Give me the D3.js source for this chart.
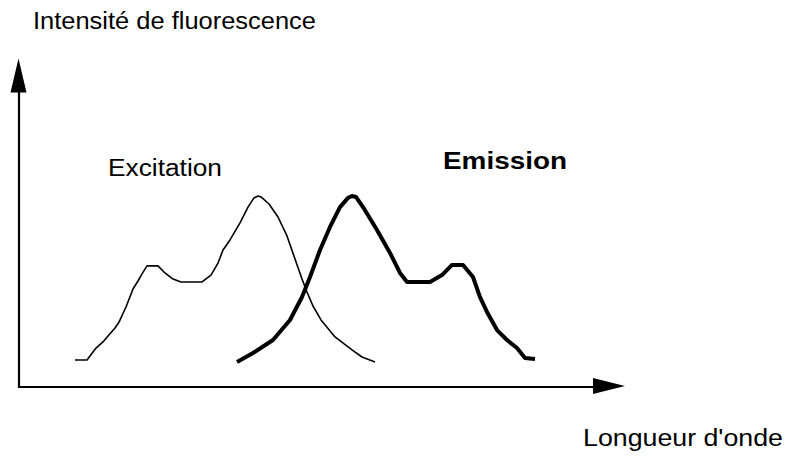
<!DOCTYPE html>
<html>
<head>
<meta charset="utf-8">
<script src="https://cdn.jsdelivr.net/npm/d3@7"></script>
<style>
  html, body { margin: 0; padding: 0; background: #fff; }
  svg { display: block; }
  text { font-family: "Liberation Sans", Arial, Helvetica, sans-serif; fill: #000; }
</style>
</head>
<body>
<svg id="chart" width="790" height="458"></svg>
<script>
// Wavelength (arbitrary units) and fluorescence intensity (% of peak)
const excitationWavelength = [56, 68, 77, 84, 89, 96, 100, 107, 114, 119, 123, 128, 139, 145, 154, 162, 183, 192, 199, 204, 211, 221, 229, 235, 239, 242, 250, 259, 268, 276, 283, 288, 294, 302, 316, 333, 343, 356];
const excitationIntensity  = [14.1, 14.1, 20.4, 23.6, 26.7, 30.9, 34.0, 41.9, 51.3, 55.5, 59.2, 63.4, 63.4, 60.2, 56.5, 55.0, 55.0, 58.6, 64.9, 71.7, 77.0, 85.9, 94.2, 99.0, 100, 99.5, 95.8, 89.0, 79.1, 67.0, 56.5, 49.7, 42.4, 35.1, 26.2, 19.4, 15.7, 13.1];

const emissionWavelength = [218, 234, 254, 271, 283, 291, 301, 311, 321, 329, 333, 337, 344, 358, 371, 381, 388, 411, 423, 433, 444, 454, 461, 468, 478, 488, 498, 506, 516];
const emissionIntensity  = [13.1, 17.8, 24.6, 35.1, 47.1, 57.6, 71.7, 83.8, 94.2, 99.0, 100, 99.5, 94.2, 82.2, 70.2, 59.7, 55.0, 55.0, 58.6, 63.9, 63.9, 57.6, 47.1, 39.3, 29.8, 24.6, 20.4, 15.2, 14.7];

const axisLimits = { wavelength: [0, 606], intensity: [0, 172] };
const labels = {
  yTitle: "Intensité de fluorescence",
  xTitle: "Longueur d'onde",
  excitation: "Excitation",
  emission: "Emission"
};

const svg = d3.select("#chart");

const x = d3.scaleLinear().domain(axisLimits.wavelength).range([19, 625]);
const y = d3.scaleLinear().domain([0, 100]).range([387, 196]);

// Axes with arrowheads
const x0 = x(0), y0 = y(0);
const xEnd = x(axisLimits.wavelength[1]);
const yEnd = y(axisLimits.intensity[1]);

svg.append("line")
  .attr("x1", x0).attr("y1", y0)
  .attr("x2", xEnd - 30).attr("y2", y0)
  .attr("stroke", "#000").attr("stroke-width", 2.2);
svg.append("line")
  .attr("x1", x0).attr("y1", y0 + 1)
  .attr("x2", x0).attr("y2", yEnd + 32)
  .attr("stroke", "#000").attr("stroke-width", 2.2);

svg.append("path")
  .attr("d", `M${xEnd},${y0 - 1} L${xEnd - 32},${y0 - 9} L${xEnd - 32},${y0 + 7} Z`)
  .attr("fill", "#000");
svg.append("path")
  .attr("d", `M${x0 - 0.5},${yEnd} L${x0 - 8.5},${yEnd + 34} L${x0 + 7.5},${yEnd + 34} Z`)
  .attr("fill", "#000");

// Curves
const line = d3.line()
  .x(d => x(d[0]))
  .y(d => y(d[1]))
  .curve(d3.curveLinear);

const excitation = excitationWavelength.map((w, i) => [w, excitationIntensity[i]]);
const emission = emissionWavelength.map((w, i) => [w, emissionIntensity[i]]);

svg.append("path")
  .datum(excitation)
  .attr("d", line)
  .attr("fill", "none")
  .attr("stroke", "#000")
  .attr("stroke-width", 1.6)
  .attr("stroke-linejoin", "round");

svg.append("path")
  .datum(emission)
  .attr("d", line)
  .attr("fill", "none")
  .attr("stroke", "#000")
  .attr("stroke-width", 4)
  .attr("stroke-linejoin", "round");

// Labels
svg.append("text")
  .attr("x", 33).attr("y", 29)
  .attr("font-size", 23)
  .attr("textLength", 283).attr("lengthAdjust", "spacingAndGlyphs")
  .text(labels.yTitle);

svg.append("text")
  .attr("x", 583).attr("y", 446)
  .attr("font-size", 23)
  .attr("textLength", 200).attr("lengthAdjust", "spacingAndGlyphs")
  .text(labels.xTitle);

svg.append("text")
  .attr("x", 108).attr("y", 176)
  .attr("font-size", 23)
  .attr("textLength", 114).attr("lengthAdjust", "spacingAndGlyphs")
  .text(labels.excitation);

svg.append("text")
  .attr("x", 443).attr("y", 169)
  .attr("font-size", 23)
  .attr("font-weight", "bold")
  .attr("textLength", 124).attr("lengthAdjust", "spacingAndGlyphs")
  .text(labels.emission);
</script>
</body>
</html>
